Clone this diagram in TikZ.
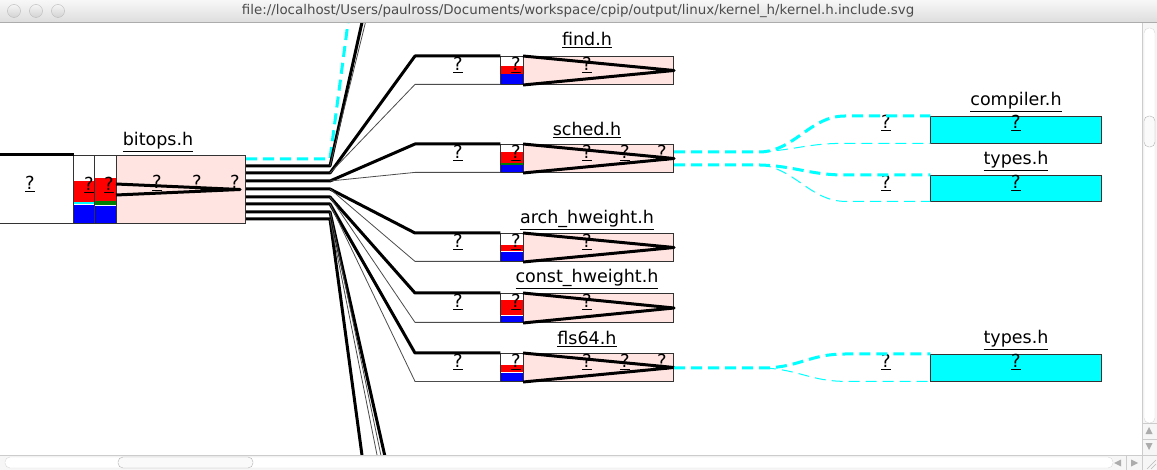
\documentclass[tikz,border=0pt]{standalone}
\usepackage{fontspec}
\setmainfont{DejaVu Sans}
\usetikzlibrary{positioning}
\definecolor{rose}{HTML}{FFE4E1}
\definecolor{aqua}{HTML}{00FFFF}
\definecolor{grn}{HTML}{008000}

\begin{document}
\begin{tikzpicture}[x=1pt,y=-1pt,
    box/.style={draw=black!80,line width=1pt,inner sep=0,anchor=north west},
    incl/.style={box,fill=rose},
    leaf/.style={box,fill=aqua},
    free/.style={inner sep=0,anchor=north west},
    q/.style={font=\fontsize{18}{18}\selectfont,inner sep=0},
    hdr/.style={font=\fontsize{17.5}{18}\selectfont,inner sep=0},
    thk/.style={line width=3pt,line join=round},
    thn/.style={line width=0.8pt,black!70},
    cyt/.style={aqua,line width=3pt,dash pattern=on 11pt off 6pt},
    cyn/.style={aqua,line width=1pt,dash pattern=on 11pt off 6pt}]

  \useasboundingbox (0,0) rectangle (1157,470);
  \fill[white] (0,0) rectangle (1157,470);

  \begin{scope}
  \clip (0,22) rectangle (1142,455);

  % column cells
  \fill[red] (73,181.5) rectangle (94,202);
  \fill[aqua] (73,202) rectangle (94,204.5);
  \fill[blue] (73,205) rectangle (94,223);
  \fill[red] (94,178) rectangle (116,201.5);
  \fill[grn] (94,201.5) rectangle (116,205);
  \fill[blue] (94,206) rectangle (116,223);
  \fill[red] (500,66) rectangle (523,74);
  \fill[blue] (500,74.5) rectangle (523,84);
  \fill[red] (500,152) rectangle (523,163);
  \fill[grn] (500,163) rectangle (523,165);
  \fill[blue] (500,165) rectangle (523,172);
  \fill[red] (500,245) rectangle (523,251);
  \fill[blue] (500,252) rectangle (523,261);
  \fill[red] (500,300) rectangle (523,315);
  \fill[blue] (500,316) rectangle (523,322);
  \fill[red] (500,365) rectangle (523,372);
  \fill[blue] (500,373) rectangle (523,381);

  % bitops.h
  \node[box,minimum width=78pt,minimum height=68pt] (bW) at (-5,155) {};
  \node[box,minimum width=21pt,minimum height=68pt] (bC1) at (73,155) {};
  \node[box,minimum width=22pt,minimum height=68pt] (bC2) at (94,155) {};
  \node[incl,minimum width=129pt,minimum height=68pt] (bP) at (116,155) {};
  \draw[thk] (bW.north west) -- (bW.north east);
  \coordinate (bT) at (240,189.5);
  \draw[thk] (bP.west |- 0,184) -- (bT) -- (bP.west |- 0,195);
  \node[hdr] (bN) at (158,142) {\underline{bitops.h}};
  \node[q] at (30,184) {\underline{?}};
  \node[q] at (89,185) {\underline{?}};
  \node[q] at (109,185) {\underline{?}};
  \node[q] at (157,183) {\underline{?}};
  \node[q] at (197,183) {\underline{?}};
  \node[q] at (235,183) {\underline{?}};

  % find.h
  \node[free,minimum width=85pt,minimum height=28pt] (fW) at (415,56) {};
  \node[box,minimum width=23pt,minimum height=28pt] (fC) at (500,56) {};
  \node[incl,minimum width=150pt,minimum height=28pt] (fP) at (523,56) {};
  \draw[thk] (fP.north west) -- (fP.east) -- (fP.south west);
  \node[hdr] at (587,40) {\underline{find.h}};
  \node[q] at (458,65) {\underline{?}};
  \node[q] at (516,65) {\underline{?}};
  \node[q] at (587,65) {\underline{?}};

  % sched.h
  \node[free,minimum width=85pt,minimum height=28pt] (sW) at (415,144) {};
  \node[box,minimum width=23pt,minimum height=28pt] (sC) at (500,144) {};
  \node[incl,minimum width=150pt,minimum height=28pt] (sP) at (523,144) {};
  \draw[thk] (sP.north west) -- (sP.east) -- (sP.south west);
  \node[hdr] at (587,130) {\underline{sched.h}};
  \node[q] at (458,153) {\underline{?}};
  \node[q] at (516,153) {\underline{?}};
  \node[q] at (587,153) {\underline{?}};
  \node[q] at (625,153) {\underline{?}};
  \node[q] at (662,153) {\underline{?}};

  % arch_hweight.h
  \node[free,minimum width=85pt,minimum height=28pt] (aW) at (415,233) {};
  \node[box,minimum width=23pt,minimum height=28pt] (aC) at (500,233) {};
  \node[incl,minimum width=150pt,minimum height=28pt] (aP) at (523,233) {};
  \draw[thk] (aP.north west) -- (aP.east) -- (aP.south west);
  \node[hdr] at (587,220) {\underline{arch\_hweight.h}};
  \node[q] at (458,242) {\underline{?}};
  \node[q] at (516,242) {\underline{?}};
  \node[q] at (587,242) {\underline{?}};

  % const_hweight.h
  \node[free,minimum width=85pt,minimum height=29pt] (cW) at (415,293) {};
  \node[box,minimum width=23pt,minimum height=29pt] (cC) at (500,293) {};
  \node[incl,minimum width=150pt,minimum height=29pt] (cP) at (523,293) {};
  \draw[thk] (cP.north west) -- (cP.east) -- (cP.south west);
  \node[hdr] at (587,279) {\underline{const\_hweight.h}};
  \node[q] at (458,302) {\underline{?}};
  \node[q] at (516,302) {\underline{?}};
  \node[q] at (587,302) {\underline{?}};

  % fls64.h
  \node[free,minimum width=85pt,minimum height=28pt] (xW) at (415,353) {};
  \node[box,minimum width=23pt,minimum height=28pt] (xC) at (500,353) {};
  \node[incl,minimum width=150pt,minimum height=28pt] (xP) at (523,353) {};
  \draw[thk] (xP.north west) -- (xP.east) -- (xP.south west);
  \node[hdr] at (587,339) {\underline{fls64.h}};
  \node[q] at (458,362) {\underline{?}};
  \node[q] at (516,362) {\underline{?}};
  \node[q] at (587,362) {\underline{?}};
  \node[q] at (625,362) {\underline{?}};
  \node[q] at (662,362) {\underline{?}};

  % compiler.h, types.h
  \node[free,minimum width=85pt,minimum height=27pt] (kW) at (845,116) {};
  \node[leaf,minimum width=171pt,minimum height=27pt] (kB) at (930,116) {};
  \node[hdr] at (1016,102) {\underline{compiler.h}};
  \node[q] at (886,123) {\underline{?}};
  \node[q] at (1016,123) {\underline{?}};
  \node[free,minimum width=85pt,minimum height=26pt] (tW) at (845,175) {};
  \node[leaf,minimum width=171pt,minimum height=26pt] (tB) at (930,175) {};
  \node[hdr] at (1016,161) {\underline{types.h}};
  \node[q] at (886,183) {\underline{?}};
  \node[q] at (1016,183) {\underline{?}};
  \node[free,minimum width=85pt,minimum height=27pt] (uW) at (845,354) {};
  \node[leaf,minimum width=171pt,minimum height=27pt] (uB) at (930,354) {};
  \node[hdr] at (1016,340) {\underline{types.h}};
  \node[q] at (886,362) {\underline{?}};
  \node[q] at (1016,362) {\underline{?}};

  % connectors out of bitops.h
  \draw[cyt] (bP.east |- 0,159) -- (330,159) -- (351,0);
  \draw[thk] (bP.east |- 0,166) -- (330,166) -- (367,0);
  \draw[thn] (330,166) -- (371,0);
  \foreach \r/\n in {173/f,181/s,189/a,197/c,204/x}{
    \draw[thk] (bP.east |- 0,\r) -- (330,\r) -- (\n W.north west) -- (\n W.north east);
    \draw[thn] (330,\r) -- (\n W.south west) -- (\n W.south east);
  }
  \draw[thk] (bP.east |- 0,212) -- (330,212) -- (388,470);
  \draw[thn] (330,212) -- (384,470);
  \draw[thk] (bP.east |- 0,219) -- (330,219) -- (364,470);
  \draw[thn] (330,219) -- (380,470);

  % connectors to compiler.h and types.h
  \draw[cyt] (sP.east |- 0,152) -- (760,152) .. controls (795,151) and (810,116) .. (kW.north west) -- (kW.north east);
  \draw[cyn] (760,152) .. controls (795,150) and (810,143) .. (kW.south west) -- (kW.south east);
  \draw[cyt] (sP.east |- 0,165) -- (760,165) .. controls (795,166) and (810,175) .. (tW.north west) -- (tW.north east);
  \draw[cyn] (760,165) .. controls (795,168) and (810,201) .. (tW.south west) -- (tW.south east);
  \draw[cyt] (xP.east |- 0,368) -- (765,368) .. controls (800,367) and (810,354) .. (uW.north west) -- (uW.north east);
  \draw[cyn] (765,368) .. controls (800,370) and (810,381) .. (uW.south west) -- (uW.south east);
  \end{scope}

  % window title bar
  \shade[top color=gray!6,bottom color=gray!26] (0,0) rectangle (1157,22);
  \draw[gray!65] (0,22) -- (1157,22);
  \foreach \x in {14,36,58}
    \draw[gray!55,top color=gray!8,bottom color=gray!35] (\x,11) circle (6.5);
  \node[font=\fontsize{13.4}{14}\selectfont,text=black!70] (ttl) at (578,11)
    {file://localhost/Users/paulross/Documents/workspace/cpip/output/linux/kernel\_h/kernel.h.include.svg};

  % scroll bars
  \fill[gray!7] (1142,23) rectangle (1157,470);
  \draw[gray!40] (1142,23) -- (1142,470);
  \draw[gray!30,fill=white,rounded corners=5pt] (1144,28) rectangle (1155,423);
  \draw[gray!60,fill=gray!4,rounded corners=5pt] (1144,116) rectangle (1155,147);
  \draw[gray!40] (1142,423) -- (1157,423) (1142,439) -- (1157,439);
  \fill[gray!65] (1149,427) -- (1145.5,434) -- (1152.5,434) -- cycle;
  \fill[gray!65] (1149,450) -- (1145.5,443) -- (1152.5,443) -- cycle;
  \fill[gray!7] (0,455) rectangle (1157,470);
  \draw[gray!40] (0,455) -- (1157,455);
  \draw[gray!30,fill=white,rounded corners=5pt] (5,457) rectangle (1113,468);
  \draw[gray!60,fill=gray!4,rounded corners=5pt] (118,457) rectangle (253,468);
  \draw[gray!40] (1126,455) -- (1126,470) (1142,455) -- (1142,470);
  \fill[gray!65] (1114,463) -- (1121,459.5) -- (1121,466.5) -- cycle;
  \fill[gray!65] (1138,463) -- (1131,459.5) -- (1131,466.5) -- cycle;
  \draw[gray!55] (1147,469) -- (1156,460) (1151,469) -- (1156,464);
\end{tikzpicture}
\end{document}
